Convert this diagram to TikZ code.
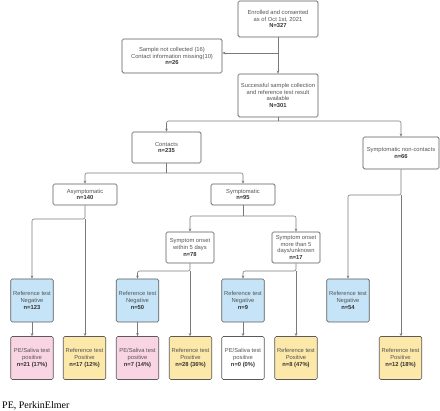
\documentclass[tikz,border=0pt]{standalone}
\usepackage{fontspec}
\setmainfont{Liberation Sans}
\newfontfamily\footfont{Liberation Serif}
\usetikzlibrary{arrows.meta}
\definecolor{bordc}{HTML}{5A5A5A}
\definecolor{linec}{HTML}{7A7A7A}
\definecolor{txtc}{HTML}{555555}
\definecolor{numc}{HTML}{333333}
\definecolor{bluef}{HTML}{C6E4F7}
\definecolor{pinkf}{HTML}{F9D4E2}
\definecolor{yelf}{HTML}{FCE8A8}
\tikzset{
  box/.style={draw=bordc, line width=0.7pt, rounded corners=1.5pt, fill=white,
    align=center, inner sep=1pt, text=txtc,
    font=\fontsize{5.8}{6.8}\selectfont},
  bluebox/.style={box, fill=bluef},
  pinkbox/.style={box, fill=pinkf},
  yelbox/.style={box, fill=yelf},
  conn/.style={draw=linec, line width=0.6pt, rounded corners=2pt},
  arr/.style={conn, -{Stealth[length=3pt,width=2.6pt]}},
}
\newcommand{\nb}[1]{\textbf{\color{numc}#1}}
\begin{document}
\begin{tikzpicture}[x=1pt,y=-1pt]
\useasboundingbox (0,0) rectangle (440,411);
% nodes
\node[box, minimum width=80pt, minimum height=36pt] (enr) at (278,19) {Enrolled and consented\\as of Oct 1st, 2021\\\nb{N=327}};
\node[box, minimum width=100pt, minimum height=34pt] (snc) at (172,56) {Sample not collected (16)\\Contact information missing(10)\\\nb{n=26}};
\node[box, minimum width=80pt, minimum height=43pt] (succ) at (278,95.5) {Successful sample collection\\and reference test result\\available\\\nb{N=301}};
\node[box, minimum width=69pt, minimum height=31pt] (cont) at (166.5,147.5) {Contacts\\\nb{n=235}};
\node[box, minimum width=76pt, minimum height=32pt] (snco) at (401,153) {Symptomatic non-contacts\\\nb{n=66}};
\node[box, minimum width=64pt, minimum height=21pt] (asym) at (85,194.5) {Asymptomatic\\\nb{n=140}};
\node[box, minimum width=64pt, minimum height=21pt] (sym) at (243,194.5) {Symptomatic\\\nb{n=95}};
\node[box, minimum width=48pt, minimum height=31pt] (on5) at (190,247.5) {Symptom onset\\within 5 days\\\nb{n=78}};
\node[box, minimum width=48pt, minimum height=31pt] (onm) at (296,247.5) {Symptom onset\\more than 5\\days/unknown\\\nb{n=17}};
% bottom rows
\tikzset{lowbox/.style={minimum width=42.5pt, minimum height=43pt}}
\node[bluebox, lowbox] (rn123) at (32,300.5) {Reference test\\Negative\\\nb{n=123}};
\node[bluebox, lowbox] (rn50) at (137.5,300.5) {Reference test\\Negative\\\nb{n=50}};
\node[bluebox, lowbox] (rn9) at (243,300.5) {Reference test\\Negative\\\nb{n=9}};
\node[bluebox, lowbox] (rn54) at (348,300.5) {Reference test\\Negative\\\nb{n=54}};
\node[pinkbox, lowbox] (pe21) at (32,358) {PE/Saliva test\\positive\\\nb{n=21 (17\%)}};
\node[yelbox, lowbox] (rp17) at (84.5,358) {Reference test\\Positive\\\nb{n=17 (12\%)}};
\node[pinkbox, lowbox] (pe7) at (137.5,358) {PE/Saliva test\\positive\\\nb{n=7 (14\%)}};
\node[yelbox, lowbox] (rp28) at (190.5,358) {Reference test\\Positive\\\nb{n=28 (36\%)}};
\node[box, lowbox] (pe0) at (243,358) {PE/Saliva test\\positive\\\nb{n=0 (0\%)}};
\node[yelbox, lowbox] (rp8) at (296,358) {Reference test\\Positive\\\nb{n=8 (47\%)}};
\node[yelbox, lowbox] (rp12) at (400.5,358) {Reference test\\Positive\\\nb{n=12 (18\%)}};
\node[anchor=base west, inner sep=0pt, font=\footfont\fontsize{10}{12}\selectfont] (foot) at (2,409) {PE, PerkinElmer};
% connectors
\coordinate (j1) at (enr.south |- 0,53);
\draw[conn] (enr.south) -- (j1);
\draw[arr] (j1) -- (snc.east |- j1);
\draw[arr] (j1) -- (succ.north);
\coordinate (j2) at (succ.south |- 0,121);
\draw[conn] (succ.south) -- (j2);
\draw[arr] (j2) -| (cont.north);
\draw[arr] (j2) -| (snco.north);
\coordinate (j3) at (cont.south |- 0,173);
\draw[conn] (cont.south) -- (j3);
\draw[arr] (j3) -| (asym.north);
\draw[arr] (j3) -| (sym.north);
\coordinate (j4) at (sym.south |- 0,216);
\draw[conn] (sym.south) -- (j4);
\draw[arr] (j4) -| (on5.north);
\draw[arr] (j4) -| (onm.north);
\coordinate (j5) at (asym.south |- 0,219);
\draw[arr] (asym.south) -- (j5) -| (rn123.north);
\draw[arr] (j5) -- (rp17.north -| j5);
\draw[arr] (rn123) -- (pe21);
\coordinate (j6) at (on5.south |- 0,271);
\draw[arr] (on5.south) -- (j6) -| (rn50.north);
\draw[arr] (j6) -- (rp28.north -| j6);
\draw[arr] (rn50) -- (pe7);
\coordinate (j7) at (onm.south |- 0,271);
\draw[arr] (onm.south) -- (j7) -| (rn9.north);
\draw[arr] (j7) -- (rp8.north);
\draw[arr] (rn9) -- (pe0);
\coordinate (j8) at (snco.south |- 0,195);
\draw[arr] (snco.south) -- (j8) -| (rn54.north);
\draw[arr] (j8) -- (rp12.north -| j8);
\end{tikzpicture}
\end{document}
